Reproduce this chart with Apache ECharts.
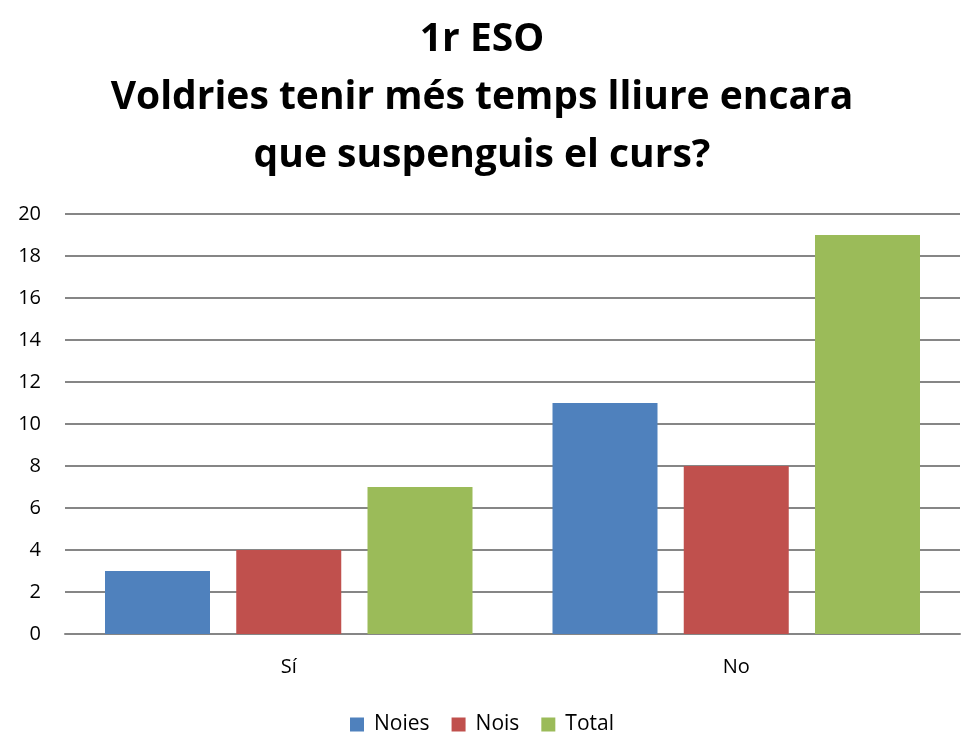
<!DOCTYPE html>
<html><head><meta charset="utf-8">
<script src="https://cdn.jsdelivr.net/npm/echarts@6/dist/echarts.min.js"></script>
<style>html,body{margin:0;padding:0;background:#fff}#c{width:964px;height:750px}</style>
</head><body><div id="c"></div>
<script>
const titleLines = ['1r ESO', 'Voldries tenir més temps lliure encara', 'que suspenguis el curs?'];
const categories = ['Sí', 'No'];
const seriesNames = ['Noies', 'Nois', 'Total'];
const noies = [3, 11];
const nois = [4, 8];
const total = [7, 19];
const colors = ['#4F81BD', '#C0504D', '#9BBB59'];
const font = "'Open Sans', 'Liberation Sans', sans-serif";
const chart = echarts.init(document.getElementById('c'));
const vals = [noies, nois, total];
chart.setOption({
  animation: false,
  title: {
    text: titleLines.join('\n'),
    left: 'center', top: 6,
    textStyle: {fontFamily: font, fontWeight: 'bold', fontSize: 39, lineHeight: 58, color: '#000'}
  },
  legend: {
    bottom: 10, left: 'center', itemWidth: 14, itemHeight: 14, itemGap: 22,
    icon: 'rect',
    textStyle: {fontFamily: font, fontSize: 21, color: '#000', padding: [0, 0, 0, 5]},
    data: seriesNames
  },
  grid: {left: 65, right: 4, top: 214, bottom: 116, containLabel: false},
  xAxis: {
    type: 'category', data: categories,
    axisLine: {lineStyle: {color: '#868686', width: 2}},
    axisTick: {show: false},
    axisLabel: {fontFamily: font, fontSize: 20, color: '#000', margin: 23}
  },
  yAxis: {
    type: 'value', min: 0, max: 20, interval: 2,
    axisLine: {show: false}, axisTick: {show: false},
    splitLine: {lineStyle: {color: '#868686', width: 2}},
    axisLabel: {fontFamily: font, fontSize: 20, color: '#000', margin: 24}
  },
  series: seriesNames.map((n, i) => ({
    name: n, type: 'bar', data: vals[i],
    barWidth: 105, barGap: '25%',
    itemStyle: {color: colors[i]}
  }))
});
</script></body></html>
